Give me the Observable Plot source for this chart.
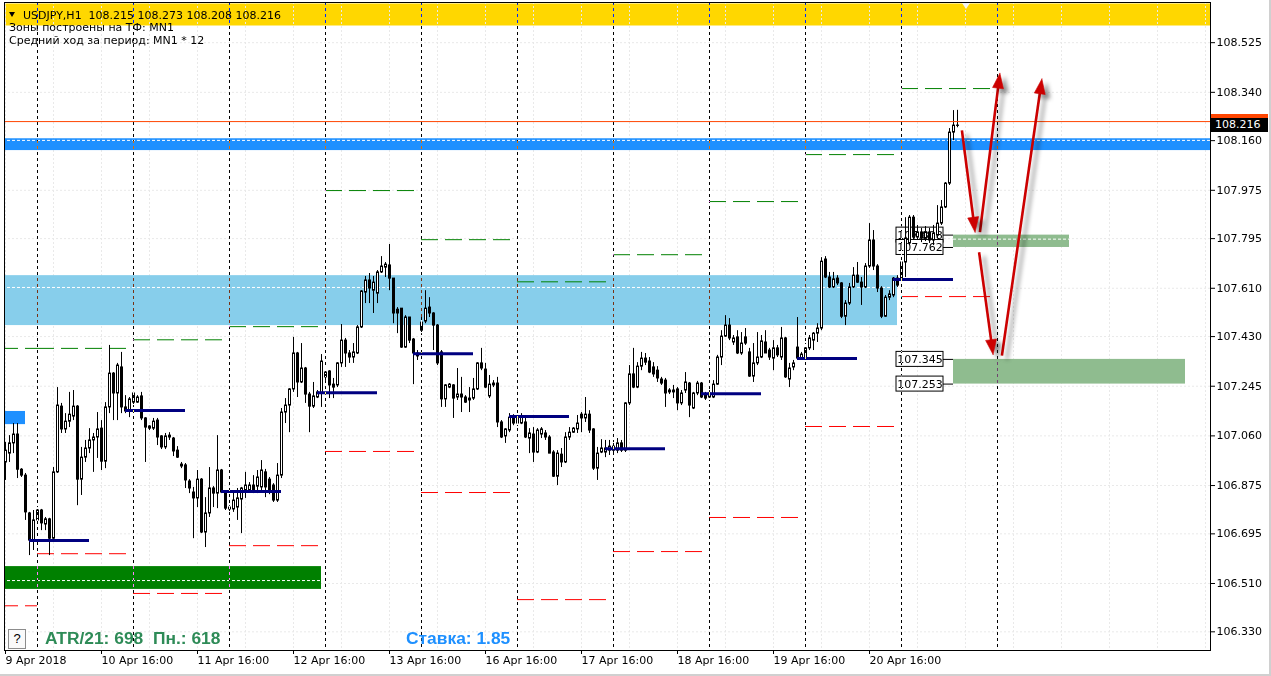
<!DOCTYPE html>
<html><head><meta charset="utf-8">
<script src="https://cdn.jsdelivr.net/npm/d3@7"></script>
<script src="https://cdn.jsdelivr.net/npm/@observablehq/plot@0.6"></script>
<style>
html,body{margin:0;padding:0;background:#fff;}
#wrap{position:relative;width:1271px;height:676px;overflow:hidden;font-family:"DejaVu Sans",sans-serif;}
#wrap svg{position:absolute;left:0;top:0;}
.ov{position:absolute;white-space:pre;line-height:1;}
.hdr{font-family:"DejaVu Sans",sans-serif;font-size:11px;color:#000;}
.big{font-family:"Liberation Sans",Arial,sans-serif;font-weight:bold;font-size:17.4px;}
</style></head><body><div id="wrap"></div>
<script>
// ---------- data ----------
const symbol = "USDJPY,H1";
const zonesTf = "Зоны построены на ТФ: MN1";
const avgRange = "Средний ход за период: MN1 * 12";
const atrText = "ATR/21: 698  Пн.: 618";
const rateText = "Ставка: 1.85";

const open = [
106.961,106.994,107.032,107.065,106.934,106.912,106.771,106.670,106.745,106.782,
106.730,106.749,106.677,106.924,107.169,107.084,107.113,107.132,107.169,106.897,
106.979,107.013,107.043,107.054,107.087,106.964,107.166,107.292,107.218,107.315,
107.166,107.154,107.218,107.184,107.207,107.125,107.095,107.087,107.117,107.058,
107.017,107.061,107.050,107.005,106.953,106.950,106.890,106.849,106.827,106.897,
106.700,106.771,106.864,106.845,106.931,106.849,106.786,106.786,106.793,106.823,
106.856,106.856,106.875,106.871,106.868,106.924,106.897,106.875,106.819,106.912,
107.147,107.173,107.233,107.367,107.259,107.311,107.214,107.169,107.203,107.218,
107.278,107.300,107.251,107.248,107.330,107.415,107.367,107.352,107.367,107.464,
107.594,107.639,107.601,107.590,107.669,107.687,107.695,107.646,107.530,107.534,
107.389,107.501,107.419,107.356,107.452,107.486,107.538,107.516,107.471,107.371,
107.196,107.240,107.248,107.203,107.214,107.203,107.192,107.199,107.233,107.330,
107.307,107.207,107.248,107.255,107.110,107.058,107.080,107.132,107.106,107.106,
107.110,107.050,107.065,106.998,107.065,107.069,107.054,106.998,106.908,106.990,
106.961,107.054,107.072,107.084,107.139,107.125,107.139,107.084,106.938,106.998,
106.998,107.005,107.020,107.005,107.032,107.005,107.181,107.289,107.240,107.318,
107.348,107.337,107.315,107.303,107.270,107.266,107.229,107.222,107.233,107.181,
107.229,107.255,107.162,107.218,107.255,107.210,107.203,107.203,107.251,107.352,
107.430,107.471,107.408,107.427,107.367,107.427,107.371,107.281,107.330,107.352,
107.408,107.378,107.348,107.386,107.352,107.423,107.270,107.315,107.389,107.348,
107.352,107.386,107.415,107.441,107.460,107.717,107.650,107.613,107.646,107.628,
107.504,107.553,107.613,107.657,107.631,107.613,107.691,107.788,107.691,107.609,
107.504,107.575,107.583,107.646,107.646,107.706,107.777,107.873,107.799,107.818,
107.795,107.818,107.788,107.806,107.851,107.911,108.000,108.190,108.215];

const high = [
107.036,107.061,107.106,107.106,106.938,106.920,106.775,106.782,106.793,106.786,
106.756,106.753,106.942,107.240,107.181,107.143,107.222,107.229,107.173,107.017,
107.043,107.087,107.069,107.147,107.117,107.184,107.397,107.296,107.330,107.371,
107.210,107.203,107.222,107.210,107.222,107.128,107.098,107.125,107.125,107.061,
107.069,107.072,107.054,107.020,106.961,106.957,106.897,106.868,106.931,106.901,
106.830,106.942,106.871,107.061,106.935,106.856,106.800,106.856,106.864,106.868,
106.924,106.886,106.912,106.931,106.968,106.935,106.905,106.882,106.957,107.162,
107.199,107.236,107.427,107.371,107.404,107.315,107.222,107.259,107.229,107.363,
107.311,107.303,107.274,107.333,107.475,107.423,107.378,107.404,107.471,107.601,
107.654,107.665,107.654,107.676,107.728,107.706,107.773,107.646,107.538,107.534,
107.508,107.501,107.423,107.378,107.501,107.601,107.575,107.519,107.475,107.378,
107.251,107.255,107.251,107.311,107.278,107.210,107.240,107.274,107.333,107.386,
107.330,107.285,107.266,107.278,107.117,107.087,107.143,107.139,107.136,107.143,
107.125,107.087,107.091,107.087,107.091,107.080,107.061,107.005,107.005,107.013,
107.072,107.091,107.091,107.136,107.147,107.203,107.154,107.087,107.017,107.046,
107.043,107.043,107.035,107.050,107.043,107.184,107.322,107.386,107.333,107.371,
107.367,107.352,107.333,107.318,107.278,107.274,107.236,107.248,107.240,107.229,
107.296,107.259,107.222,107.263,107.259,107.222,107.229,107.266,107.360,107.452,
107.508,107.497,107.434,107.452,107.445,107.460,107.386,107.404,107.445,107.434,
107.452,107.386,107.415,107.397,107.464,107.427,107.330,107.341,107.501,107.371,
107.404,107.434,107.445,107.478,107.724,107.728,107.669,107.669,107.657,107.631,
107.564,107.628,107.687,107.706,107.650,107.702,107.851,107.825,107.698,107.616,
107.583,107.601,107.650,107.657,107.732,107.873,107.881,107.881,107.844,107.833,
107.840,107.833,107.844,107.918,107.937,108.004,108.205,108.272,108.273];

const low = [
106.894,106.961,106.994,106.901,106.905,106.745,106.614,106.633,106.670,106.707,
106.707,106.614,106.670,106.920,107.069,107.069,107.091,107.117,106.800,106.838,
106.961,106.994,106.924,106.976,106.931,106.938,107.143,107.117,107.117,107.143,
107.143,107.128,107.173,107.181,107.117,106.961,107.080,107.080,107.024,107.009,
107.009,107.043,106.983,106.976,106.938,106.864,106.845,106.677,106.793,106.696,
106.644,106.756,106.793,106.789,106.845,106.782,106.778,106.775,106.745,106.696,
106.827,106.849,106.845,106.845,106.849,106.830,106.841,106.812,106.812,106.901,
107.106,107.072,107.222,107.203,107.255,107.181,107.072,107.162,107.199,107.166,
107.266,107.199,107.199,107.240,107.315,107.315,107.330,107.330,107.363,107.460,
107.553,107.553,107.516,107.553,107.665,107.650,107.601,107.478,107.441,107.386,
107.386,107.404,107.251,107.341,107.441,107.478,107.501,107.378,107.322,107.166,
107.166,107.236,107.125,107.192,107.147,107.181,107.147,107.192,107.229,107.303,
107.236,107.199,107.240,107.091,107.050,107.032,107.072,107.098,107.095,107.102,
107.050,106.994,106.961,106.994,107.050,107.043,106.994,106.905,106.875,106.942,
106.957,107.043,107.069,107.069,107.072,107.110,107.069,106.931,106.894,106.994,
106.979,106.987,106.998,106.994,106.998,106.998,107.173,107.236,107.236,107.303,
107.322,107.292,107.278,107.259,107.248,107.166,107.214,107.199,107.154,107.173,
107.218,107.128,107.158,107.210,107.199,107.192,107.192,107.199,107.248,107.322,
107.427,107.415,107.397,107.363,107.360,107.397,107.278,107.259,107.322,107.348,
107.367,107.341,107.303,107.352,107.341,107.274,107.240,107.303,107.348,107.341,
107.348,107.378,107.378,107.408,107.452,107.646,107.609,107.609,107.620,107.497,
107.471,107.546,107.609,107.628,107.546,107.609,107.684,107.676,107.594,107.497,
107.501,107.564,107.575,107.613,107.639,107.650,107.769,107.788,107.788,107.780,
107.784,107.777,107.769,107.795,107.844,107.907,107.993,108.160,108.208];

const close = [
107.005,107.032,107.065,106.934,106.912,106.775,106.670,106.745,106.782,106.734,
106.749,106.677,106.924,107.173,107.084,107.113,107.139,107.169,106.897,106.979,
107.013,107.043,107.054,107.084,106.964,107.166,107.292,107.218,107.322,107.166,
107.151,107.196,107.184,107.203,107.125,107.091,107.087,107.113,107.054,107.017,
107.058,107.054,107.002,106.979,106.946,106.894,106.864,106.827,106.897,106.700,
106.771,106.864,106.845,106.931,106.849,106.789,106.793,106.819,106.827,106.864,
106.875,106.875,106.856,106.905,106.931,106.868,106.849,106.819,106.912,107.147,
107.173,107.233,107.367,107.259,107.311,107.214,107.169,107.207,107.222,107.337,
107.296,107.248,107.240,107.330,107.415,107.367,107.352,107.371,107.464,107.598,
107.639,107.609,107.631,107.669,107.691,107.698,107.646,107.516,107.516,107.389,
107.501,107.415,107.367,107.367,107.482,107.534,107.516,107.471,107.330,107.196,
107.248,107.251,107.199,107.214,107.203,107.184,107.199,107.233,107.330,107.311,
107.240,107.251,107.255,107.110,107.054,107.084,107.128,107.106,107.125,107.128,
107.054,107.069,106.998,107.080,107.084,107.054,106.994,106.908,106.994,106.961,
107.054,107.072,107.087,107.106,107.125,107.139,107.080,106.938,106.994,107.013,
107.013,107.020,107.005,107.032,107.005,107.181,107.289,107.240,107.318,107.348,
107.333,107.296,107.289,107.274,107.255,107.218,107.222,107.229,107.181,107.218,
107.259,107.173,107.218,107.255,107.203,107.199,107.218,107.251,107.352,107.430,
107.471,107.423,107.423,107.367,107.404,107.404,107.281,107.330,107.352,107.412,
107.367,107.352,107.386,107.360,107.423,107.278,107.311,107.330,107.348,107.363,
107.386,107.423,107.441,107.460,107.709,107.650,107.613,107.643,107.628,107.504,
107.553,107.613,107.657,107.631,107.613,107.691,107.788,107.691,107.609,107.504,
107.575,107.587,107.646,107.620,107.706,107.795,107.873,107.799,107.818,107.795,
107.818,107.788,107.814,107.851,107.911,108.000,108.190,108.216,108.216];

const askPrice = 108.231;

const labelBars = [0,24,48,72,96,120,144,168,192,216];
const labelTexts = ["9 Apr 2018","10 Apr 16:00","11 Apr 16:00","12 Apr 16:00","13 Apr 16:00",
                    "16 Apr 16:00","17 Apr 16:00","18 Apr 16:00","19 Apr 16:00","20 Apr 16:00"];
const priceTicks = [108.525,108.340,108.160,107.975,107.795,107.610,107.430,107.245,107.060,106.875,106.695,106.510,106.330];
const separatorBars = [8,32,56,80,104,128,152,176,200,224,248];

// daily levels
const dayStartBars = [8,32,56,80,104,128,152,176,200,224];
const upperLevels = [107.386,107.418,107.467,107.974,107.791,107.634,107.735,107.933,108.108,108.354];
const lowerLevels = [106.621,106.473,106.651,107.002,106.849,106.450,106.629,106.756,107.095,107.579];
const openLevels  = [106.670,107.155,106.853,107.221,107.366,107.132,107.012,107.217,107.348,107.643];
const prevUpper = 107.386, prevLower = 106.427;

// zones
const zoneNames = ["resistance","range","support","marker","target1","target2"];
const zoneFrom  = [-2,-2,-2,-2,237,237];
const zoneTo    = [310,223,79,5,266,295];
const zoneLow   = [108.123,107.471,106.488,107.102,107.762,107.253];
const zoneHigh  = [108.167,107.657,106.573,107.151,107.808,107.345];
const zoneMid   = [108.161,107.613,106.521,null,107.793,null];

const tagPrices = [107.808,107.762,107.345,107.253];
const tagBars   = [237,237,237,237];

// forecast arrows
const arrowFromBar   = [239.1,243.6,243.4,249.1];
const arrowFromPrice = [108.198,107.819,107.744,107.359];
const arrowToBar     = [242.4,248.6,246.9,259.1];
const arrowToPrice   = [107.819,108.411,107.363,108.390];

// ---------- layout ----------
const W = 1271, H = 676, mL = 4, mR = 61, mT = 2, mB = 26;
const X0 = -0.25, X1 = 301.25, Y0 = 106.2604, Y1 = 108.6747;
const xk = (W - mL - mR) / (X1 - X0);
const yk = (H - mT - mB) / (Y1 - Y0);

const zoneColor = {resistance:"#1E90FF", range:"#87CEEB", support:"#008000", marker:"#1E90FF", target1:"#8FBC8F", target2:"#8FBC8F"};

const bars = open.map((o, i) => ({i, o, h: high[i], l: low[i], c: close[i], up: close[i] >= o}));
const zones = zoneNames.map((n, k) => ({n, x1: zoneFrom[k], x2: zoneTo[k], y1: zoneLow[k], y2: zoneHigh[k], mid: zoneMid[k], fill: zoneColor[n]}));
const days = dayStartBars.map((s, k) => ({s, e: s + 22.4, up: upperLevels[k], lo: lowerLevels[k], op: openLevels[k]}));
days.unshift({s: -1, e: 8, up: prevUpper, lo: prevLower, op: null});

const arrows = arrowFromBar.map((b, k) => {
  const x1 = b, y1 = arrowFromPrice[k], x2 = arrowToBar[k], y2 = arrowToPrice[k];
  const dxp = (x2 - x1) * xk, dyp = -(y2 - y1) * yk, len = Math.hypot(dxp, dyp);
  const ux = dxp / len, uy = dyp / len, L = 15, w = 5.5;
  const bx = -ux * L, by = -uy * L;
  const sx = -ux * (L - 3), sy = -uy * (L - 3);
  return {
    k, x1, y1,
    sx: x2 + sx / xk, sy: y2 - sy / yk,
    head: [
      {k, x: x2, y: y2},
      {k, x: x2 + (bx - uy * w) / xk, y: y2 - (by + ux * w) / yk},
      {k, x: x2 + (bx + uy * w) / xk, y: y2 - (by - ux * w) / yk},
      {k, x: x2, y: y2}
    ]
  };
});
const heads = arrows.flatMap(a => a.head);

const tagMarks = tagPrices.flatMap((p, k) => {
  const d = [{x1: tagBars[k] - 57 / xk, x2: tagBars[k] - 10 / xk, y1: p - 7.5 / yk, y2: p + 7.5 / yk, p, b: tagBars[k]}];
  return [
    Plot.rect(d, {x1: "x1", x2: "x2", y1: "y1", y2: "y2", fill: "white", stroke: "black"}),
    Plot.text(d, {x: d => (d.x1 + d.x2) / 2, y: "p", text: d => d.p.toFixed(3), fill: "black", fontSize: 11}),
    Plot.ruleY(d, {y: "p", x1: "x2", x2: "b", stroke: "black"})
  ];
});

const gridBars = d3.range(0, 301, 12);

const chart = Plot.plot({
  width: W, height: H,
  marginLeft: mL, marginRight: mR, marginTop: mT, marginBottom: mB,
  style: {fontFamily: "DejaVu Sans", fontSize: "11px", background: "white", color: "black"},
  x: {type: "linear", domain: [X0, X1]},
  y: {type: "linear", domain: [Y0, Y1]},
  marks: [
    Plot.frame({fill: "#FFD700", stroke: "none", insetTop: 1, insetBottom: 625, insetLeft: 1}),
    Plot.ruleX(gridBars, {stroke: "#e9e9e9", strokeDasharray: "2,2"}),
    Plot.ruleY(priceTicks, {stroke: "#e9e9e9", strokeDasharray: "2,2"}),
    Plot.rect(zones, {x1: "x1", x2: "x2", y1: "y1", y2: "y2", fill: "fill", clip: true}),
    Plot.ruleY(zones.filter(z => z.mid != null), {y: "mid", x1: "x1", x2: "x2", stroke: "white", strokeDasharray: "3,2", clip: true}),
    Plot.ruleY(days, {y: "up", x1: "s", x2: "e", stroke: "#008000", strokeDasharray: "17,7", clip: true}),
    Plot.ruleY(days, {y: "lo", x1: "s", x2: "e", stroke: "#ff0000", strokeDasharray: "17,7", clip: true}),
    ...tagMarks,
    Plot.ruleX(bars, {x: "i", y1: "l", y2: "h", stroke: "black"}),
    Plot.rect(bars.filter(d => d.up), {x1: d => d.i - 0.5, x2: d => d.i + 0.5, y1: "o", y2: "c", insetLeft: 1.5, insetRight: 0.5, fill: "white", stroke: "black"}),
    Plot.rect(bars.filter(d => !d.up), {x1: d => d.i - 0.5, x2: d => d.i + 0.5, y1: "o", y2: "c", insetLeft: 1.5, insetRight: 0.5, fill: "black", stroke: "black"}),
    Plot.ruleY(days.filter(d => d.op != null), {y: "op", x1: d => d.s - 2, x2: d => d.s + 13, stroke: "#000080", strokeWidth: 3}),
    Plot.ruleY([askPrice], {stroke: "#FF4500"}),
    Plot.ruleX(separatorBars, {stroke: "white", strokeDasharray: "3,3", mixBlendMode: "difference"}),
    Plot.link(arrows, {x1: "x1", y1: "y1", x2: "sx", y2: "sy", stroke: "#cc0000", strokeWidth: 2.6}),
    Plot.line(heads, {x: "x", y: "y", z: "k", fill: "#cc0000", stroke: "#cc0000", strokeWidth: 0.6}),
    Plot.frame({stroke: "black"}),
    Plot.axisX({ticks: labelBars, tickFormat: d => labelTexts[labelBars.indexOf(d)], tickSize: 4, tickPadding: 2, textAnchor: "start", label: null}),
    Plot.axisY({anchor: "right", ticks: priceTicks, tickFormat: d => d.toFixed(3), tickSize: 4, tickPadding: 2, label: null})
  ]
});

const wrap = document.getElementById("wrap");
wrap.appendChild(chart);
chart.querySelectorAll('g[aria-label="link"], g[aria-label="line"]').forEach(g => {
  g.style.filter = "drop-shadow(5px 4px 2px rgba(0,0,0,0.4))";
});

const ys = chart.scale("y");
function ov(html, css, cls) {
  const d = document.createElement("div");
  d.className = "ov " + (cls || "");
  d.textContent = html;
  Object.assign(d.style, css);
  wrap.appendChild(d);
  return d;
}
const last = bars[bars.length - 1];
ov(`${symbol}  ${last.o.toFixed(3)} ${last.h.toFixed(3)} ${last.l.toFixed(3)} ${last.c.toFixed(3)}`, {left: "23px", top: "10px"}, "hdr");
ov(zonesTf, {left: "9px", top: "21.5px"}, "hdr");
ov(avgRange, {left: "9px", top: "35px"}, "hdr");
ov("", {left: "9px", top: "12px", width: "0", height: "0", borderLeft: "3.5px solid transparent", borderRight: "3.5px solid transparent", borderTop: "5px solid #000"});
ov("", {left: "962px", top: "3px", width: "0", height: "0", borderLeft: "4px solid transparent", borderRight: "4px solid transparent", borderTop: "6px solid #f4f4f4"});

// price labels on the axis (ask marker partly hidden behind the bid label)
const ay = ys.apply(askPrice), by = ys.apply(last.c);
ov("", {left: "1211px", top: (ay - 7) + "px", width: "57px", height: "14px", background: "#FF4500"});
ov(last.c.toFixed(3), {left: "1211px", top: (by - 7) + "px", width: "57px", height: "14px", background: "#000", color: "#fff", fontSize: "11px", paddingLeft: "4px", boxSizing: "border-box", lineHeight: "14px"});

// bottom-left info
ov("?", {left: "8px", top: "629px", width: "18px", height: "20px", border: "1px solid #8c8c8c", boxSizing: "border-box", textAlign: "center", lineHeight: "18px", fontSize: "13px", fontFamily: "Liberation Sans, Arial, sans-serif", background: "#fafafa"});
ov(atrText, {left: "45px", top: "630px", color: "#2E8B57"}, "big");
ov(rateText, {left: "406px", top: "630px", color: "#1E90FF"}, "big");
// window border
ov("", {left: "1269px", top: "0px", width: "2px", height: "676px", background: "#d0d0d0"});
ov("", {left: "0px", top: "674px", width: "1271px", height: "2px", background: "#d0d0d0"});
</script></body></html>
